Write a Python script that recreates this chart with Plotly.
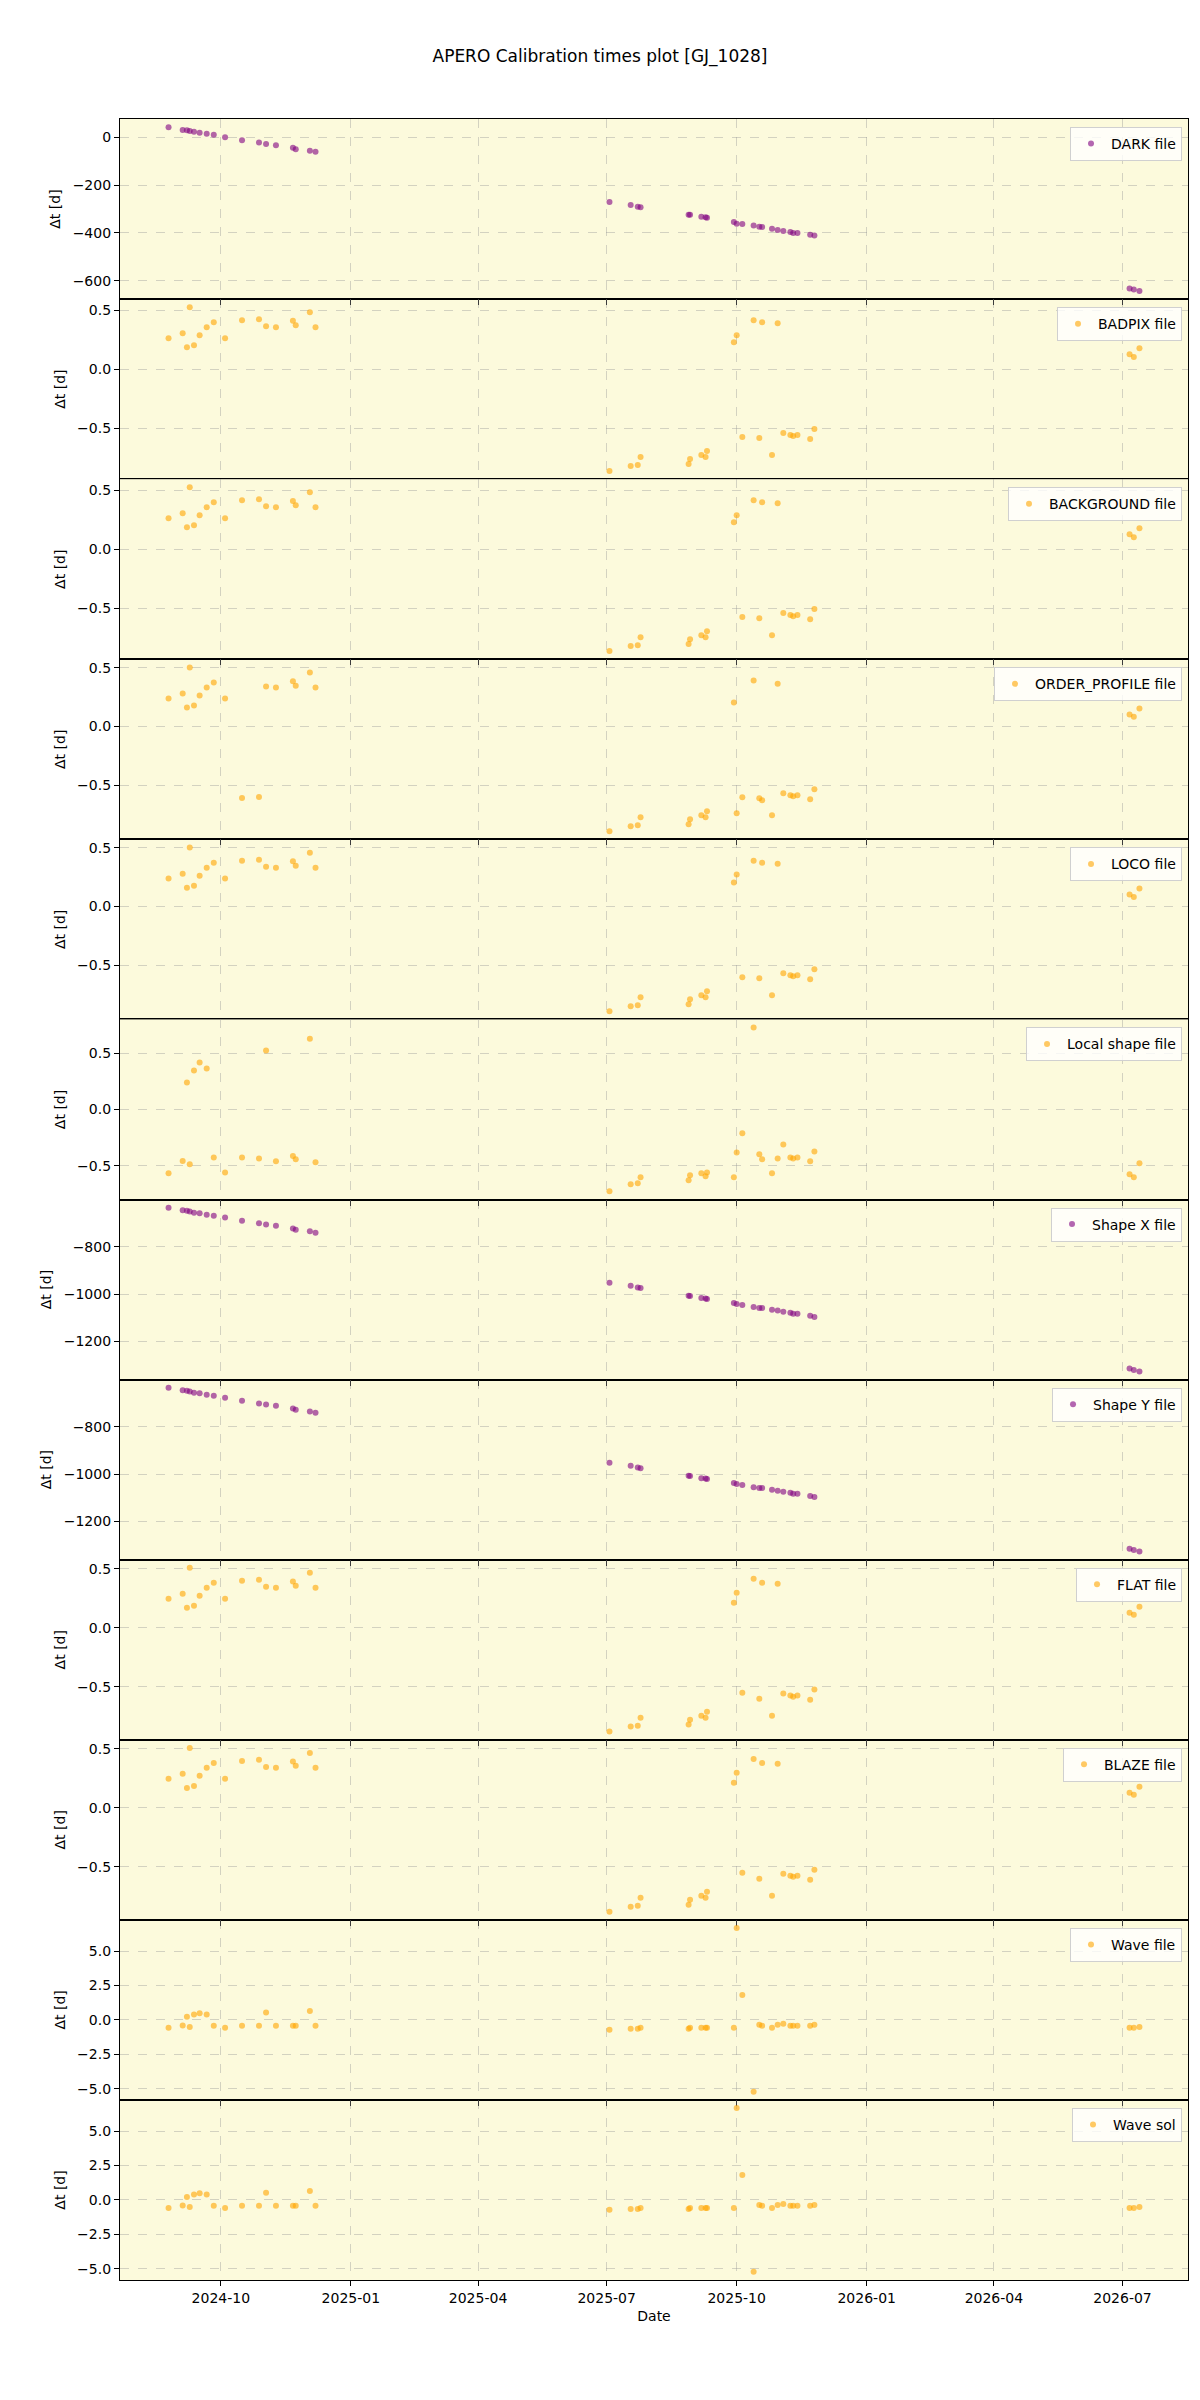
import pandas as pd
import plotly.graph_objects as go
from plotly.subplots import make_subplots

dates = [
    "2024-08-25", "2024-09-04", "2024-09-07", "2024-09-09", "2024-09-12", "2024-09-16",
    "2024-09-21", "2024-09-26", "2024-10-04", "2024-10-16", "2024-10-28", "2024-11-02",
    "2024-11-09", "2024-11-21", "2024-11-23", "2024-12-03", "2024-12-07",
    "2025-07-03", "2025-07-18", "2025-07-23", "2025-07-25", "2025-08-28", "2025-08-29",
    "2025-09-06", "2025-09-09", "2025-09-10", "2025-09-29", "2025-10-01", "2025-10-05",
    "2025-10-13", "2025-10-17", "2025-10-19", "2025-10-26", "2025-10-30", "2025-11-03",
    "2025-11-08", "2025-11-10", "2025-11-13", "2025-11-22", "2025-11-25",
    "2026-07-06", "2026-07-09", "2026-07-13",
]

dark = [42, 30, 29, 26, 23, 19, 15, 10, 0, -13, -22, -28, -33, -44, -50, -56, -61,
        -271, -283, -290, -292, -324, -324, -332, -334, -336, -354, -361, -363, -369,
        -374, -375, -382, -388, -392, -396, -400, -400, -407, -411,
        -632, -636, -642]

badpix = [0.263, 0.305, 0.186, 0.525, 0.203, 0.288, 0.356, 0.398, 0.263, 0.415, 0.424,
          0.364, 0.356, 0.410, 0.373, 0.483, 0.356,
          -0.864, -0.822, -0.814, -0.746, -0.805, -0.763, -0.729, -0.746, -0.695, 0.229,
          0.288, -0.576, 0.415, -0.585, 0.398, -0.729, 0.390, -0.542, -0.559, -0.568,
          -0.559, -0.593, -0.508,
          0.127, 0.102, 0.178]

background = list(badpix)

order_profile = [0.238, 0.280, 0.161, 0.503, 0.178, 0.263, 0.331, 0.374, 0.238, -0.609,
                 -0.600, 0.340, 0.331, 0.385, 0.348, 0.459, 0.331,
                 -0.892, -0.850, -0.841, -0.773, -0.833, -0.790, -0.756, -0.773, -0.722,
                 0.204, -0.739, -0.603, 0.391, -0.612, -0.629, -0.756, 0.365, -0.569,
                 -0.586, -0.595, -0.586, -0.620, -0.535,
                 0.102, 0.082, 0.153]

loco = [0.238, 0.280, 0.161, 0.503, 0.178, 0.263, 0.331, 0.374, 0.238, 0.391, 0.399,
        0.340, 0.331, 0.385, 0.348, 0.459, 0.331,
        -0.892, -0.850, -0.841, -0.773, -0.833, -0.790, -0.756, -0.773, -0.722, 0.204,
        0.272, -0.603, 0.391, -0.612, 0.374, -0.756, 0.365, -0.569, -0.586, -0.595,
        -0.586, -0.620, -0.535,
        0.102, 0.082, 0.153]

local_shape = [-0.566, -0.457, 0.239, -0.487, 0.345, 0.416, 0.363, -0.425, -0.558, -0.425,
               -0.434, 0.522, -0.460, -0.413, -0.442, 0.628, -0.469,
               -0.726, -0.664, -0.655, -0.602, -0.628, -0.584, -0.566, -0.593, -0.558,
               -0.602, -0.381, -0.212, 0.726, -0.398, -0.442, -0.566, -0.434, -0.310,
               -0.425, -0.434, -0.425, -0.460, -0.372,
               -0.575, -0.602, -0.478]

shape_x = [-635, -646, -648, -651, -656, -658, -665, -669, -677, -690, -701, -706, -711,
           -723, -728, -735, -741,
           -952, -965, -972, -975, -1007, -1008, -1017, -1019, -1021, -1038, -1042, -1046,
           -1055, -1059, -1059, -1066, -1070, -1075, -1079, -1083, -1083, -1092, -1097,
           -1315, -1321, -1327]

shape_y = list(shape_x)

flat = [0.246, 0.288, 0.169, 0.508, 0.186, 0.271, 0.339, 0.381, 0.246, 0.398, 0.407,
        0.347, 0.339, 0.393, 0.356, 0.466, 0.339,
        -0.881, -0.839, -0.831, -0.763, -0.822, -0.780, -0.746, -0.763, -0.712, 0.212,
        0.297, -0.551, 0.415, -0.602, 0.381, -0.746, 0.373, -0.559, -0.576, -0.585,
        -0.576, -0.610, -0.525,
        0.127, 0.110, 0.178]

blaze = list(flat)

wave_file = [-0.58, -0.41, 0.22, -0.51, 0.39, 0.48, 0.39, -0.43, -0.58, -0.43, -0.43, 0.53,
             -0.43, -0.43, -0.43, 0.65, -0.43,
             -0.72, -0.65, -0.65, -0.58, -0.65, -0.58, -0.58, -0.58, -0.58, -0.58, 6.67,
             1.81, -5.22, -0.36, -0.43, -0.58, -0.36, -0.29, -0.43, -0.43, -0.43, -0.43,
             -0.36,
             -0.58, -0.58, -0.51]

wave_sol = list(wave_file)

labels = ["DARK file", "BADPIX file", "BACKGROUND file", "ORDER_PROFILE file", "LOCO file",
          "Local shape file", "Shape X file", "Shape Y file", "FLAT file", "BLAZE file",
          "Wave file", "Wave sol"]
series = [dark, badpix, background, order_profile, loco, local_shape, shape_x, shape_y,
          flat, blaze, wave_file, wave_sol]
colors = ["purple", "orange", "orange", "orange", "orange", "orange", "purple", "purple",
          "orange", "orange", "orange", "orange"]
dticks = [200, 0.5, 0.5, 0.5, 0.5, 0.5, 200, 200, 0.5, 0.5, 2.5, 2.5]
tfmts = ["d", ".1f", ".1f", ".1f", ".1f", ".1f", "d", "d", ".1f", ".1f", ".1f", ".1f"]

W, H = 1200, 2400
L, R, T, B = 120, 12, 119, 120
n = len(series)
plot_h = H - T - B

fig = make_subplots(rows=n, cols=1, shared_xaxes=True, vertical_spacing=0)

dt = pd.to_datetime(pd.Series(dates))
span = dt.max() - dt.min()
xr = [(dt.min() - 0.05 * span).strftime("%Y-%m-%d %H:%M"),
      (dt.max() + 0.05 * span).strftime("%Y-%m-%d %H:%M")]

grid_col = "rgba(150,150,150,0.4)"
font = dict(family="DejaVu Sans", size=14, color="black")

for i, (lab, ys, col) in enumerate(zip(labels, series, colors)):
    r = i + 1
    lg = "legend" if i == 0 else f"legend{i + 1}"
    fig.add_trace(go.Scatter(
        x=dates, y=ys, mode="markers", name=lab, legend=lg,
        marker=dict(color=col, size=6, opacity=0.6, line=dict(width=0)),
    ), row=r, col=1)
    lo, hi = min(ys), max(ys)
    sp = hi - lo
    fig.update_yaxes(
        range=[lo - 0.05 * sp, hi + 0.05 * sp], dtick=dticks[i], tickformat=tfmts[i],
        showgrid=True, gridcolor=grid_col, griddash="dash", gridwidth=1,
        zeroline=False, showline=True, mirror=True, linecolor="black", linewidth=1.2,
        ticks="outside", ticklen=5, tickcolor="black", tickfont=font,
        title=dict(text="Δt [d]", font=font, standoff=8),
        row=r, col=1)
    fig.update_xaxes(
        range=xr, showgrid=True, gridcolor=grid_col, griddash="dash", gridwidth=1,
        zeroline=False, showline=True, mirror=True, linecolor="black", linewidth=1.2,
        ticks="outside", ticklen=5, tickcolor="black", tickfont=font,
        dtick="M3", tick0="2024-10-01", tickformat="%Y-%m",
        row=r, col=1)
    top_px = T + i * plot_h / n
    ytop = 1 - (top_px - T + 8) / plot_h
    fig.update_layout(**{lg: dict(
        x=0.9944, y=ytop, xanchor="right", yanchor="top",
        bgcolor="rgba(255,255,255,0.8)", bordercolor="#d0d0d0", borderwidth=1,
        font=font, itemsizing="trace",
    )})

fig.update_xaxes(title=dict(text="Date", font=font, standoff=6), row=n, col=1)

fig.update_layout(
    width=W, height=H,
    margin=dict(l=L, r=R, t=T, b=B),
    paper_bgcolor="white",
    plot_bgcolor="#fcfadc",
    font=font,
    showlegend=True,
    title=dict(text="APERO Calibration times plot [GJ_1028]", x=0.5, xref="container",
               xanchor="center", y=1 - 56 / H, yref="container", yanchor="middle",
               font=dict(family="DejaVu Sans", size=17, color="black")),
)

fig.write_html("out.html")
